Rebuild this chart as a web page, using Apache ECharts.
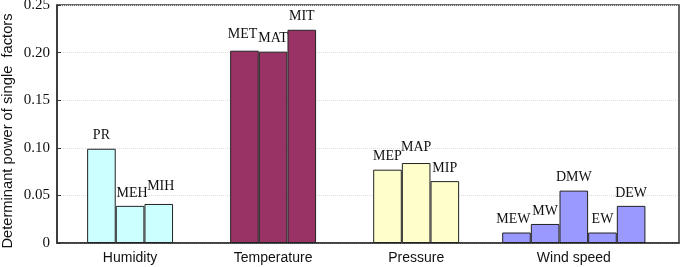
<!DOCTYPE html>
<html>
<head>
<meta charset="utf-8">
<script src="https://cdn.jsdelivr.net/npm/echarts@6/dist/echarts.min.js"></script>
<style>
  html, body { margin: 0; padding: 0; background: #fff; }
  #chart { width: 685px; height: 267px; }
</style>
</head>
<body>
<div id="chart"></div>
<script>
// factor groups and their sub-factor values
const groups = ['Humidity', 'Temperature', 'Pressure', 'Wind speed'];

const humidityNames = ['PR', 'MEH', 'MIH'];
const humidityValues = [0.099, 0.039, 0.041];

const temperatureNames = ['MET', 'MAT', 'MIT'];
const temperatureValues = [0.202, 0.201, 0.224];

const pressureNames = ['MEP', 'MAP', 'MIP'];
const pressureValues = [0.077, 0.084, 0.065];

const windNames = ['MEW', 'MW', 'DMW', 'EW', 'DEW'];
const windValues = [0.011, 0.020, 0.055, 0.011, 0.039];

const yTicks = [0, 0.05, 0.10, 0.15, 0.20, 0.25];

// layout: x axis measured in bar widths
const groupColors = ['#ccffff', '#993366', '#ffffcc', '#9999ff'];
const groupStart = [1.05, 6.04, 11.03, 15.53];
const xMax = 21.7;
// hand nudges of a few bar labels (px), as in the original figure
const labelNudge = { MET: [-2, -3], MAP: [0, -3], MEH: [2, 0], MIH: [2, -5], MEW: [-3, 0] };

const chart = echarts.init(document.getElementById('chart'));

const groupData = [
  [humidityNames, humidityValues],
  [temperatureNames, temperatureValues],
  [pressureNames, pressureValues],
  [windNames, windValues]
];

const barData = [];
const groupCenters = [];
groupData.forEach(([names, values], g) => {
  groupCenters.push(groupStart[g] + names.length / 2);
  names.forEach((n, i) => {
    barData.push({
      name: n,
      value: [groupStart[g] + i + 0.5, values[i]],
      itemStyle: { color: groupColors[g] },
      label: { offset: labelNudge[n] || [0, 0] }
    });
  });
});

const option = {
  animation: false,
  grid: {
    left: 57, right: 6, top: 5, bottom: 24,
    outerBoundsMode: 'none',
    show: true, borderColor: '#333', borderWidth: 1.5, backgroundColor: 'transparent'
  },
  xAxis: {
    type: 'value',
    min: 0, max: xMax,
    axisLine: { show: true, lineStyle: { color: '#333', width: 1.5 } },
    axisTick: { show: false },
    splitLine: { show: false },
    axisLabel: {
      customValues: groupCenters,
      formatter: v => {
        const k = groupCenters.findIndex(c => Math.abs(c - v) < 1e-6);
        return k >= 0 ? groups[k] : '';
      },
      fontFamily: 'Liberation Sans', fontSize: 14, color: '#111', margin: 8
    }
  },
  yAxis: {
    type: 'value',
    min: 0, max: 0.25, interval: 0.05,
    name: 'Determinant power of single  factors',
    nameLocation: 'middle', nameGap: 42, nameMoveOverlap: false,
    nameTextStyle: { fontFamily: 'Liberation Sans', fontSize: 14.7, color: '#111', padding: [0, 14, 0, 0] },
    axisLine: { show: true, lineStyle: { color: '#333', width: 1.5 } },
    axisTick: { show: true, inside: true, length: 4, lineStyle: { color: '#333' } },
    splitLine: { show: true, lineStyle: { color: '#ddd', type: 'dotted' } },
    axisLabel: {
      formatter: v => {
        const t = yTicks.find(x => Math.abs(x - v) < 1e-9);
        return t === 0 ? '0' : t.toFixed(2);
      },
      fontFamily: 'Liberation Serif', fontSize: 15, color: '#111', margin: 7
    }
  },
  series: [{
    type: 'bar',
    data: barData,
    barWidth: 28.6,
    itemStyle: { borderColor: '#222', borderWidth: 1 },
    label: {
      show: true, position: 'top', distance: 6,
      formatter: p => p.name,
      fontFamily: 'Liberation Serif', fontSize: 14, color: '#111'
    }
  }]
};

chart.setOption(option);
</script>
</body>
</html>
